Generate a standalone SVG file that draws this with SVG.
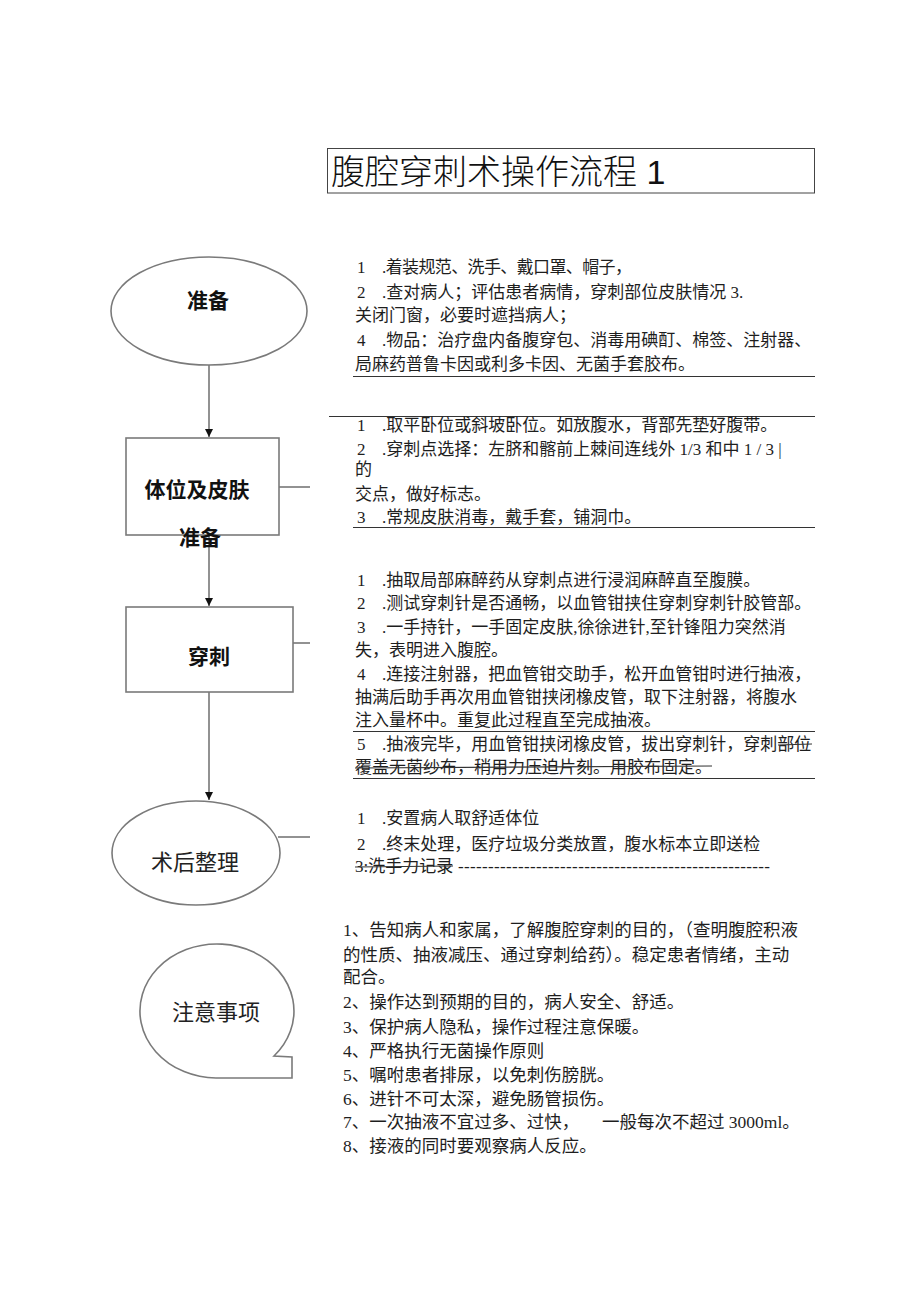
<svg xmlns="http://www.w3.org/2000/svg" width="920" height="1301" viewBox="0 0 920 1301">
<defs>
<style>
.bg{fill:#ffffff}
.shape{fill:#ffffff;stroke:#7a7a7a;stroke-width:1.6}
.conn{fill:none;stroke:#6e6e6e;stroke-width:1.5}
.rule{stroke:#333333;stroke-width:1.1}
.strike{stroke:#333333;stroke-width:1.1}
.t{font-family:"Liberation Serif","Noto Sans CJK SC",serif;font-size:17px;fill:#1e1e1e}
.t5{font-family:"Liberation Serif","Noto Sans CJK SC",serif;font-size:17.5px;fill:#1e1e1e}
.lb{font-family:"Liberation Sans","Noto Sans CJK SC",sans-serif;font-size:21px;font-weight:bold;fill:#111111;text-anchor:middle}
.lr{font-family:"Liberation Serif","Noto Sans CJK SC",serif;font-size:22px;fill:#222222;text-anchor:middle}
.title{font-family:"Liberation Sans","Noto Sans CJK SC",sans-serif;font-size:34px;font-weight:300;fill:#111111}
</style>
<marker id="arr" viewBox="0 0 10 10" refX="10" refY="5" markerWidth="8" markerHeight="8" markerUnits="userSpaceOnUse" orient="auto">
<path d="M0,0 L10,5 L0,10 Z" fill="#111111"/>
</marker>
</defs>
<rect class="bg" x="0" y="0" width="920" height="1301"/>

<g id="title">
<rect x="327.5" y="148.5" width="487" height="44.5" fill="none" stroke="#444444" stroke-width="1"/>
<text class="title" x="331" y="184">腹腔穿刺术操作流程 1</text>
</g>

<g id="connectors">
<line class="conn" x1="209" y1="365" x2="209" y2="437" marker-end="url(#arr)"/>
<line class="conn" x1="209" y1="535" x2="209" y2="606" marker-end="url(#arr)"/>
<line class="conn" x1="209" y1="692" x2="209" y2="800" marker-end="url(#arr)"/>
<line class="conn" x1="279" y1="487" x2="310" y2="487"/>
<line class="conn" x1="293" y1="643" x2="310" y2="643"/>
<line class="conn" x1="278" y1="837" x2="310" y2="837"/>
</g>

<g id="node-prep">
<ellipse class="shape" cx="209" cy="311" rx="98" ry="54"/>
<text class="lb" x="208" y="308">准备</text>
</g>

<g id="node-position">
<rect class="shape" x="126" y="438" width="153" height="97"/>
<text class="lb" x="197" y="497">体位及皮肤</text>
<text class="lb" x="200" y="545">准备</text>
</g>

<g id="node-puncture">
<rect class="shape" x="126" y="607" width="167" height="85"/>
<text class="lb" x="209" y="664">穿刺</text>
</g>

<g id="node-post">
<ellipse class="shape" cx="196" cy="853" rx="84" ry="52"/>
<text class="lr" x="195" y="870">术后整理</text>
</g>

<g id="node-notes">
<path class="shape" d="M292,1078 L216,1078 A77,67 0 1 1 274,1056 L292,1057 Z"/>
<text class="lr" x="216" y="1020">注意事项</text>
</g>

<g id="text-prep">
<text class="t" x="357" y="273">1</text><text class="t" x="382" y="273" textLength="250" lengthAdjust="spacing">.着装规范、洗手、戴口罩、帽子，</text>
<text class="t" x="357" y="298">2</text><text class="t" x="382" y="298">.查对病人；评估患者病情，穿刺部位皮肤情况 3.</text>
<text class="t" x="355" y="321">关闭门窗，必要时遮挡病人；</text>
<text class="t" x="357" y="346">4</text><text class="t" x="382" y="346">.物品：治疗盘内备腹穿包、消毒用碘酊、棉签、注射器、</text>
<text class="t" x="355" y="370">局麻药普鲁卡因或利多卡因、无菌手套胶布。</text>
<line class="rule" x1="353" y1="376.5" x2="815" y2="376.5"/>
</g>

<g id="text-position">
<line class="rule" x1="329" y1="416.5" x2="815" y2="416.5"/>
<text class="t" x="357" y="431">1</text><text class="t" x="382" y="431">.取平卧位或斜坡卧位。如放腹水，背部先垫好腹带。</text>
<text class="t" x="357" y="455">2</text><text class="t" x="382" y="455">.穿刺点选择：左脐和髂前上棘间连线外 1/3 和中 1 / 3 |</text>
<text class="t" x="355" y="475">的</text>
<text class="t" x="355" y="500">交点，做好标志。</text>
<text class="t" x="357" y="523">3</text><text class="t" x="382" y="523">.常规皮肤消毒，戴手套，铺洞巾。</text>
<line class="rule" x1="353" y1="527.5" x2="815" y2="527.5"/>
</g>

<g id="text-puncture">
<text class="t" x="357" y="586">1</text><text class="t" x="382" y="586">.抽取局部麻醉药从穿刺点进行浸润麻醉直至腹膜。</text>
<text class="t" x="357" y="609">2</text><text class="t" x="382" y="609">.测试穿刺针是否通畅，以血管钳挟住穿刺穿刺针胶管部。</text>
<text class="t" x="357" y="633">3</text><text class="t" x="382" y="633">.一手持针，一手固定皮肤,徐徐进针,至针锋阻力突然消</text>
<text class="t" x="355" y="656">失，表明进入腹腔。</text>
<text class="t" x="357" y="680">4</text><text class="t" x="382" y="680">.连接注射器，把血管钳交助手，松开血管钳时进行抽液，</text>
<text class="t" x="355" y="703">抽满后助手再次用血管钳挟闭橡皮管，取下注射器，将腹水</text>
<text class="t" x="355" y="726">注入量杯中。重复此过程直至完成抽液。</text>
<line class="rule" x1="353" y1="731.5" x2="815" y2="731.5"/>
<text class="t" x="357" y="750">5</text><text class="t" x="382" y="750">.抽液完毕，用血管钳挟闭橡皮管，拔出穿刺针，穿刺部位</text>
<line class="strike" x1="778" y1="745" x2="812" y2="744"/>
<text class="t" x="355" y="773">覆盖无菌纱布，稍用力压迫片刻。用胶布固定。</text>
<line class="strike" x1="355" y1="768" x2="712" y2="766"/>
<line class="rule" x1="353" y1="778.5" x2="815" y2="778.5"/>
</g>

<g id="text-post">
<text class="t" x="357" y="824">1</text><text class="t" x="382" y="824">.安置病人取舒适体位</text>
<text class="t" x="357" y="850">2</text><text class="t" x="382" y="850">.终末处理，医疗垃圾分类放置，腹水标本立即送检</text>
<text class="t" x="355" y="872">3:洗手力记录</text>
<line class="strike" x1="355" y1="867" x2="453" y2="866"/>
<text class="t" x="458" y="872" textLength="312" lengthAdjust="spacing">----------------------------------------------------</text>
</g>

<g id="text-notes">
<text class="t5" x="343" y="936">1、告知病人和家属，了解腹腔穿刺的目的，（查明腹腔积液</text>
<text class="t5" x="343" y="961">的性质、抽液减压、通过穿刺给药）。稳定患者情绪，主动</text>
<text class="t5" x="343" y="983">配合。</text>
<text class="t5" x="343" y="1008">2、操作达到预期的目的，病人安全、舒适。</text>
<text class="t5" x="343" y="1033">3、保护病人隐私，操作过程注意保暖。</text>
<text class="t5" x="343" y="1057">4、严格执行无菌操作原则</text>
<text class="t5" x="343" y="1081">5、嘱咐患者排尿，以免刺伤膀胱。</text>
<text class="t5" x="343" y="1105">6、进针不可太深，避免肠管损伤。</text>
<text class="t5" x="343" y="1128">7、一次抽液不宜过多、过快，<tspan x="602">一般每次不超过 3000ml。</tspan></text>
<text class="t5" x="343" y="1152">8、接液的同时要观察病人反应。</text>
</g>
</svg>
